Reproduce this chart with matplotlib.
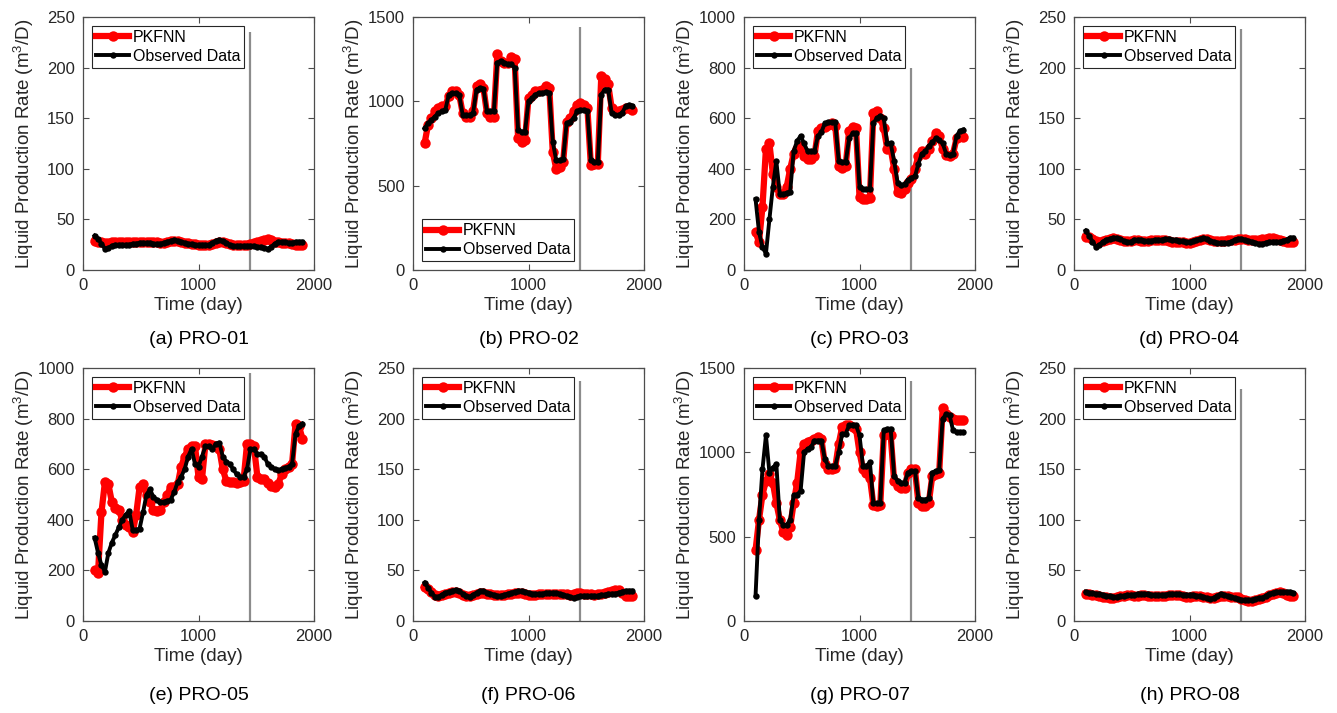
"""
Liquid production rate history for the eight producers:
PKFNN prediction against observed data, with the history/forecast split day.
"""

import numpy as np
import matplotlib
matplotlib.use("Agg")
import matplotlib.pyplot as plt

plt.rcParams["font.family"] = ["Liberation Sans", "DejaVu Sans"]
plt.rcParams["mathtext.fontset"] = "custom"
plt.rcParams["mathtext.rm"] = "Liberation Sans"
plt.rcParams["mathtext.it"] = "Liberation Sans:italic"

# =========================
# DATA
# =========================
days = np.arange(100, 1901, 30)   # sampling days, 61 points

wells = ["PRO-01", "PRO-02", "PRO-03", "PRO-04",
         "PRO-05", "PRO-06", "PRO-07", "PRO-08"]
tags = ["a", "b", "c", "d", "e", "f", "g", "h"]
y_max = [250, 1500, 1000, 250, 1000, 250, 1500, 250]
y_step = [50, 500, 200, 50, 200, 50, 500, 50]
split_day = 1450
split_top = [235, 1440, 800, 238, 980, 237, 1423, 229]
legend_loc = ["upper left", "lower left", "upper left", "upper left",
              "upper left", "upper left", "upper left", "upper left"]

obs_pro01 = [34, 31, 26, 21, 22, 24, 25, 25, 25, 25,
             25, 26, 26, 27, 27, 27, 27, 26, 26, 26,
             27, 28, 29, 30, 29, 28, 27, 26, 26, 25,
             25, 25, 25, 25, 27, 29, 30, 29, 27, 25,
             24, 24, 24, 24, 24, 24, 24, 23, 23, 22,
             21, 23, 26, 28, 28, 28, 27, 27, 28, 28,
             28]
pkfnn_pro01 = [29, 28, 28, 27, 27, 28, 28, 28, 28, 28,
               28, 28, 28, 28, 28, 28, 28, 28, 28, 27,
               27, 28, 29, 29, 29, 28, 27, 27, 26, 26,
               25, 25, 25, 25, 26, 27, 28, 28, 27, 26,
               25, 25, 25, 25, 25, 26, 27, 28, 29, 30,
               31, 30, 28, 28, 27, 27, 27, 26, 25, 25,
               25]

obs_pro02 = [840, 870, 890, 910, 930, 940, 950, 1040, 1050, 1050,
             1040, 920, 920, 920, 930, 1070, 1080, 1075, 940, 940,
             940, 1230, 1240, 1230, 1220, 1220, 1200, 830, 820, 820,
             1000, 1020, 1040, 1050, 1050, 1055, 1050, 760, 650, 650,
             660, 870, 880, 900, 940, 950, 950, 940, 650, 640,
             640, 1040, 1070, 1070, 930, 920, 920, 930, 970, 980,
             975]
pkfnn_pro02 = [750, 860, 900, 940, 960, 970, 975, 1030, 1060, 1060,
               1040, 930, 910, 910, 940, 1090, 1100, 1080, 930, 910,
               910, 1280, 1240, 1230, 1230, 1260, 1250, 780, 760, 770,
               1020, 1040, 1060, 1060, 1070, 1090, 1080, 700, 600, 610,
               640, 880, 900, 940, 980, 990, 980, 960, 620, 630,
               630, 1150, 1130, 1100, 960, 940, 940, 950, 960, 960,
               950]

obs_pro03 = [280, 150, 90, 65, 200, 330, 430, 300, 300, 305,
             310, 470, 510, 530, 500, 470, 470, 470, 530, 545,
             580, 585, 585, 585, 430, 425, 425, 520, 540, 540,
             330, 320, 320, 320, 580, 600, 610, 600, 500, 500,
             430, 345, 335, 340, 355, 365, 370, 420, 460, 470,
             490, 505, 520, 515, 500, 460, 455, 460, 530, 550,
             555]
pkfnn_pro03 = [150, 110, 250, 480, 500, 380, 330, 300, 300, 330,
               400, 460, 480, 490, 450, 440, 440, 450, 550, 560,
               565, 575, 580, 570, 410, 405, 410, 550, 565, 560,
               290, 280, 280, 285, 620, 630, 600, 560, 480, 480,
               400, 310, 305, 320, 345, 360, 400, 450, 470, 460,
               480, 510, 540, 530, 480, 455, 450, 460, 520, 530,
               525]

obs_pro04 = [39, 34, 28, 23, 25, 28, 30, 31, 32, 32,
             31, 29, 28, 28, 30, 30, 30, 29, 29, 29,
             30, 30, 30, 31, 31, 30, 30, 29, 29, 28,
             28, 29, 30, 31, 32, 31, 29, 28, 27, 27,
             27, 27, 28, 30, 31, 31, 30, 29, 28, 27,
             26, 26, 27, 28, 28, 28, 28, 29, 30, 32,
             32]
pkfnn_pro04 = [33, 33, 31, 29, 28, 29, 30, 31, 32, 31,
               30, 29, 29, 29, 30, 30, 29, 29, 29, 30,
               30, 30, 30, 30, 29, 28, 28, 28, 28, 27,
               27, 28, 29, 30, 31, 31, 30, 29, 29, 29,
               29, 30, 30, 30, 31, 31, 31, 30, 30, 30,
               30, 31, 31, 32, 32, 31, 30, 29, 28, 28,
               28]

obs_pro05 = [330, 270, 220, 195, 270, 310, 340, 370, 400, 420,
             435, 360, 360, 365, 430, 500, 520, 490, 480, 470,
             470, 475, 480, 510, 550, 570, 600, 650, 680, 620,
             610, 650, 690, 690, 680, 700, 705, 650, 630, 620,
             600, 580, 570, 570, 600, 680, 680, 660, 660, 650,
             620, 610, 600, 595, 600, 605, 610, 620, 740, 770,
             780]
pkfnn_pro05 = [200, 190, 430, 550, 540, 470, 445, 440, 400, 380,
               370, 350, 420, 530, 540, 500, 470, 440, 435, 440,
               470, 500, 530, 530, 540, 610, 650, 680, 690, 690,
               570, 560, 700, 700, 695, 690, 680, 600, 555, 550,
               550, 545, 550, 555, 700, 700, 690, 570, 560, 560,
               545, 535, 530, 540, 580, 600, 610, 620, 780, 770,
               720]

obs_pro06 = [38, 33, 28, 24, 24, 26, 28, 29, 30, 31,
             30, 27, 25, 24, 26, 28, 30, 30, 28, 27,
             26, 25, 25, 26, 27, 28, 29, 30, 30, 29,
             28, 27, 27, 27, 27, 28, 28, 28, 28, 27,
             26, 25, 24, 23, 24, 25, 25, 25, 25, 25,
             25, 26, 26, 27, 27, 27, 28, 29, 30, 30,
             30]
pkfnn_pro06 = [34, 32, 29, 26, 25, 26, 27, 28, 29, 29,
               28, 26, 25, 25, 26, 27, 28, 28, 27, 27,
               26, 26, 26, 26, 27, 27, 28, 28, 28, 27,
               26, 26, 26, 27, 27, 27, 27, 27, 27, 27,
               27, 27, 26, 27, 28, 28, 27, 27, 27, 26,
               27, 27, 28, 29, 30, 31, 31, 28, 25, 25,
               25]

obs_pro07 = [150, 600, 900, 1100, 880, 910, 930, 600, 570, 570,
             600, 745, 750, 770, 1000, 1020, 1030, 1070, 1070, 1070,
             960, 920, 920, 920, 1000, 1110, 1110, 1160, 1165, 1160,
             1100, 920, 920, 940, 700, 700, 700, 1130, 1140, 1140,
             860, 830, 820, 820, 880, 890, 890, 730, 720, 720,
             730, 880, 890, 895, 1200, 1225, 1220, 1130, 1120, 1120,
             1120]
pkfnn_pro07 = [420, 600, 750, 830, 870, 820, 700, 600, 530, 510,
               560, 700, 820, 1000, 1050, 1060, 1070, 1080, 1090, 1080,
               930, 900, 900, 910, 1050, 1150, 1160, 1160, 1150, 1140,
               1000, 900, 880, 850, 690, 680, 690, 1100, 1110, 1100,
               830, 800, 790, 790, 880, 900, 900, 700, 680, 680,
               700, 860, 870, 880, 1260, 1230, 1210, 1200, 1190, 1190,
               1190]

obs_pro08 = [29, 28, 28, 27, 27, 26, 25, 25, 24, 24,
             25, 25, 26, 26, 26, 27, 27, 27, 27, 26,
             26, 26, 26, 26, 27, 27, 27, 27, 26, 26,
             26, 26, 25, 25, 24, 23, 22, 23, 25, 27,
             26, 25, 24, 23, 22, 21, 21, 21, 21, 22,
             23, 23, 25, 27, 28, 29, 29, 29, 29, 29,
             28]
pkfnn_pro08 = [27, 27, 26, 26, 25, 24, 24, 23, 23, 24,
               25, 25, 26, 26, 25, 25, 26, 26, 25, 25,
               25, 25, 25, 25, 26, 26, 26, 26, 25, 24,
               24, 25, 25, 25, 24, 24, 23, 23, 24, 25,
               25, 25, 24, 24, 24, 22, 21, 20, 20, 21,
               22, 23, 24, 26, 27, 28, 29, 28, 26, 25,
               25]

observed = [obs_pro01, obs_pro02, obs_pro03, obs_pro04,
            obs_pro05, obs_pro06, obs_pro07, obs_pro08]
pkfnn = [pkfnn_pro01, pkfnn_pro02, pkfnn_pro03, pkfnn_pro04,
         pkfnn_pro05, pkfnn_pro06, pkfnn_pro07, pkfnn_pro08]

# =========================
# LAYOUT (pixels)
# =========================
FIG_W, FIG_H = 1337, 713
COL_LEFT = [83, 413, 744, 1074]
ROW_TOP = [17, 368]
AX_W, AX_H = 231, 253
CAPTION_Y = [340, 695]

DARK = "#262626"
SPINE = "#4d4d4d"
RED = "#ff0000"
GRAY = "#8c8c8c"


def draw_panel(fig, i):
    row, col = divmod(i, 4)
    left = COL_LEFT[col] / FIG_W
    bottom = 1 - (ROW_TOP[row] + AX_H) / FIG_H
    ax = fig.add_axes([left, bottom, AX_W / FIG_W, AX_H / FIG_H])

    ax.vlines(split_day, 0, split_top[i], color=GRAY, linewidth=1.6, zorder=1)
    ax.plot(days, pkfnn[i], "-o", color=RED, linewidth=4.5, markersize=7.5,
            markeredgewidth=0, label="PKFNN", zorder=2)
    ax.plot(days, observed[i], "-o", color="black", linewidth=2.8,
            markersize=4.6, markeredgewidth=0, label="Observed Data", zorder=3)

    ax.set_xlim(0, 2000)
    ax.set_ylim(0, y_max[i])
    ax.set_xticks([0, 1000, 2000])
    ax.set_yticks(np.arange(0, y_max[i] + 1, y_step[i]))

    ax.tick_params(direction="in", length=4, width=0.8, top=True, right=True,
                   labelsize=12, pad=6, color=SPINE, labelcolor=DARK)
    for sp in ax.spines.values():
        sp.set_color(SPINE)
        sp.set_linewidth(0.9)

    ax.set_xlabel("Time (day)", fontsize=13.5, color=DARK, labelpad=2.5)
    ax.set_ylabel("Liquid Production Rate (m$^{3}$/D)", fontsize=13.5, color=DARK)
    ax.yaxis.set_label_coords(-0.205, 0.5)

    leg = ax.legend(loc=legend_loc[i], fontsize=11.5, frameon=True,
                    fancybox=False, edgecolor=DARK, framealpha=1,
                    handlelength=2.1, handletextpad=0.2, borderpad=0.25,
                    labelspacing=0.25, borderaxespad=0.55, numpoints=1)
    leg.get_frame().set_linewidth(0.8)

    fig.text((COL_LEFT[col] + AX_W / 2) / FIG_W, 1 - CAPTION_Y[row] / FIG_H,
             f"({tags[i]}) {wells[i]}", ha="center", va="center",
             fontsize=14, color="black")
    return ax


if __name__ == "__main__":
    fig = plt.figure(figsize=(FIG_W / 100, FIG_H / 100), dpi=100)
    fig.patch.set_facecolor("white")
    for i in range(len(wells)):
        draw_panel(fig, i)
    fig.savefig("out.png", dpi=100, facecolor="white")
    plt.close(fig)
